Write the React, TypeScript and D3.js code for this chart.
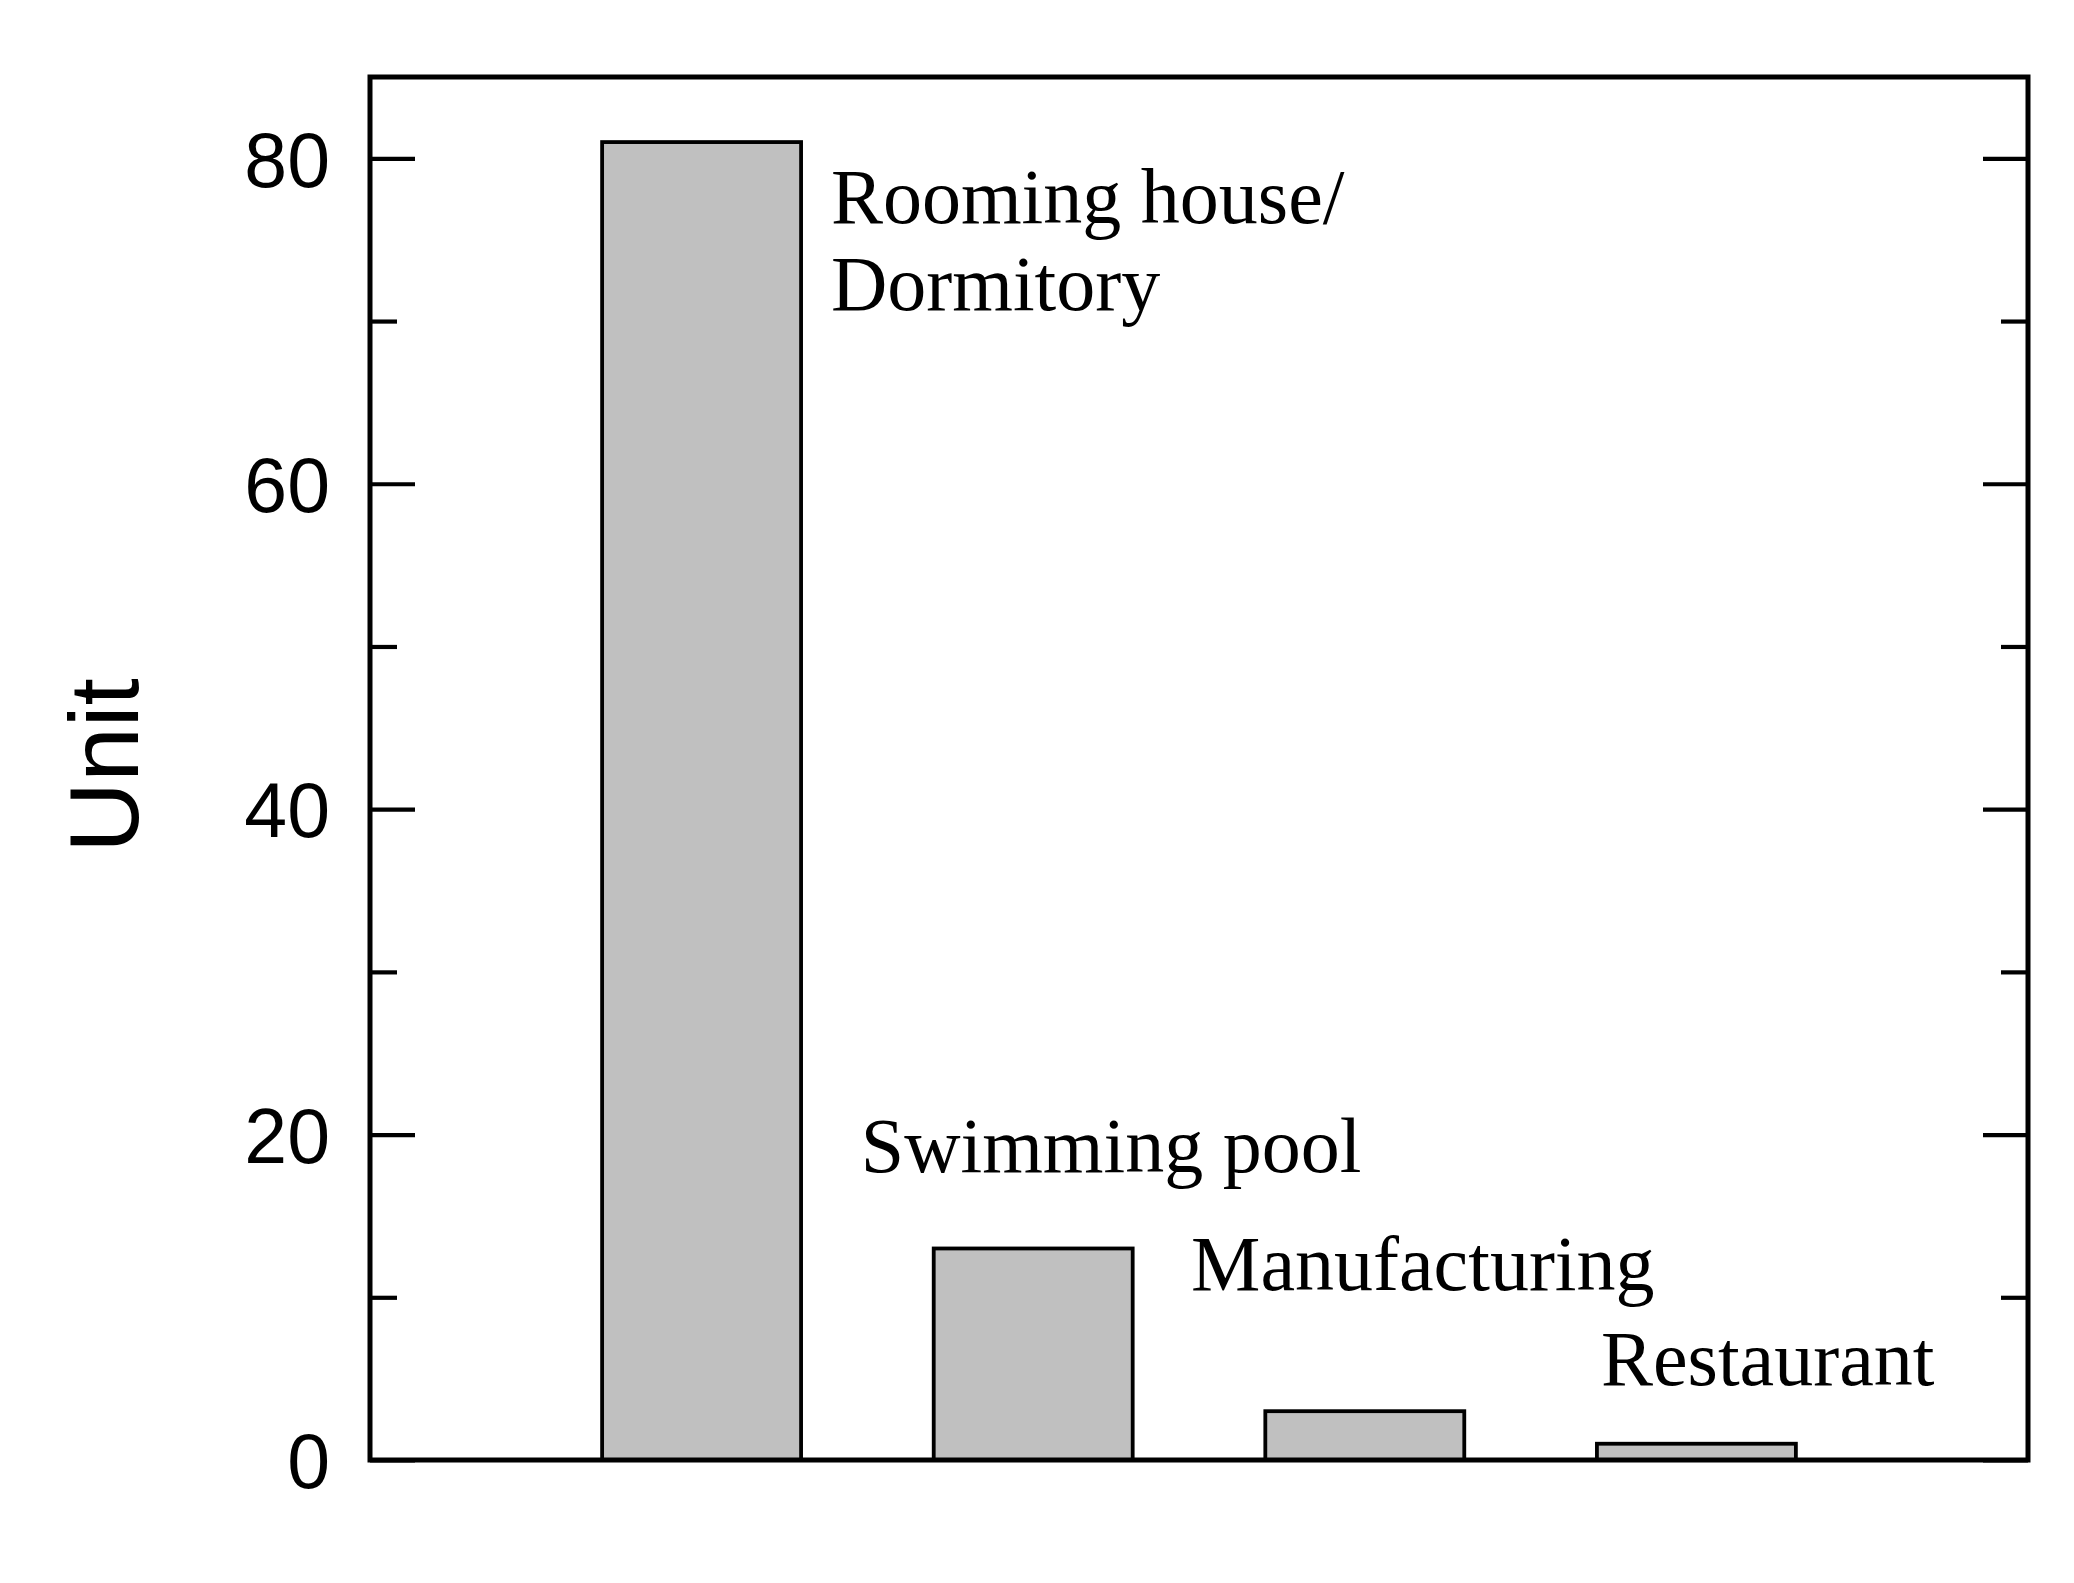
import { useEffect, useRef } from "react";
import * as d3 from "d3";

// Bar data
const categories = ["Rooming house/\nDormitory", "Swimming pool", "Manufacturing", "Restaurant"];
const positions = [1, 2, 3, 4];
const values = [81, 13, 3, 1];

// Where each category label sits, in data units (x position, y value of baseline)
const labelX = [1.39, 1.48, 2.476, 3.712];
const labelY = [76.0, 17.7, 10.45, 4.6];

// Axis ticks
const majorTicks = [0, 20, 40, 60, 80];
const minorTicks = [10, 30, 50, 70];
const yDomain: [number, number] = [0, 85];
const xDomain: [number, number] = [0, 5];

const WIDTH = 2074;
const HEIGHT = 1583;
const margin = { top: 77, right: 46, bottom: 123, left: 370 };

export default function App() {
  const svgRef = useRef<SVGSVGElement>(null);

  useEffect(() => {
    if (!svgRef.current) return;
    const svg = d3.select(svgRef.current);
    svg.selectAll("*").remove();

    const x0 = margin.left;
    const x1 = WIDTH - margin.right;
    const y0 = HEIGHT - margin.bottom;
    const y1 = margin.top;

    const xScale = d3.scaleLinear().domain(xDomain).range([x0, x1]);
    const yScale = d3.scaleLinear().domain(yDomain).range([y0, y1]);

    const barWidth = xScale(0.6) - xScale(0);

    // Bars
    svg
      .append("g")
      .selectAll("rect")
      .data(values)
      .enter()
      .append("rect")
      .attr("x", (_d, i) => xScale(positions[i]) - barWidth / 2)
      .attr("y", (d) => yScale(d))
      .attr("width", barWidth)
      .attr("height", (d) => yScale(0) - yScale(d))
      .attr("fill", "#c0c0c0")
      .attr("stroke", "#000")
      .attr("stroke-width", 3.8);

    // Left axis (ticks pointing inward)
    const leftMajor = svg
      .append("g")
      .attr("transform", `translate(${x0},0)`)
      .call(d3.axisLeft(yScale).tickValues(majorTicks).tickSize(-45).tickPadding(40).tickFormat(d3.format("d")));
    leftMajor.select(".domain").remove();
    leftMajor.selectAll(".tick line").attr("stroke", "#000").attr("stroke-width", 4.2);
    leftMajor
      .selectAll(".tick text")
      .attr("font-family", "'Liberation Sans', Arial, sans-serif")
      .attr("font-size", 77)
      .attr("fill", "#000")
      .attr("dy", "0.36em");

    const leftMinor = svg
      .append("g")
      .attr("transform", `translate(${x0},0)`)
      .call(d3.axisLeft(yScale).tickValues(minorTicks).tickSize(-27).tickFormat(() => ""));
    leftMinor.select(".domain").remove();
    leftMinor.selectAll(".tick line").attr("stroke", "#000").attr("stroke-width", 4.2);

    // Right axis mirrors the ticks, no labels
    const rightMajor = svg
      .append("g")
      .attr("transform", `translate(${x1},0)`)
      .call(d3.axisRight(yScale).tickValues(majorTicks).tickSize(-45).tickFormat(() => ""));
    rightMajor.select(".domain").remove();
    rightMajor.selectAll(".tick line").attr("stroke", "#000").attr("stroke-width", 4.2);

    const rightMinor = svg
      .append("g")
      .attr("transform", `translate(${x1},0)`)
      .call(d3.axisRight(yScale).tickValues(minorTicks).tickSize(-27).tickFormat(() => ""));
    rightMinor.select(".domain").remove();
    rightMinor.selectAll(".tick line").attr("stroke", "#000").attr("stroke-width", 4.2);

    // Frame
    svg
      .append("rect")
      .attr("x", x0)
      .attr("y", y1)
      .attr("width", x1 - x0)
      .attr("height", y0 - y1)
      .attr("fill", "none")
      .attr("stroke", "#000")
      .attr("stroke-width", 5);

    // Category labels
    const labels = svg
      .append("g")
      .attr("font-family", "'Liberation Serif', 'Times New Roman', serif")
      .attr("font-size", 78)
      .attr("fill", "#000");

    categories.forEach((c, i) => {
      const t = labels
        .append("text")
        .attr("x", xScale(labelX[i]))
        .attr("y", yScale(labelY[i]));
      c.split("\n").forEach((line, j) => {
        t.append("tspan")
          .attr("x", xScale(labelX[i]))
          .attr("dy", j === 0 ? 0 : 87)
          .text(line);
      });
    });

    // Y axis title
    svg
      .append("text")
      .attr("transform", `translate(138,${(y0 + y1) / 2 - 3}) rotate(-90)`)
      .attr("text-anchor", "middle")
      .attr("font-family", "'Liberation Sans', Arial, sans-serif")
      .attr("font-size", 98)
      .attr("fill", "#000")
      .text("Unit");
  }, []);

  return (
    <div style={{ position: "absolute", left: 0, top: 0, background: "#fff" }}>
      <svg ref={svgRef} width={WIDTH} height={HEIGHT} style={{ display: "block" }} />
    </div>
  );
}
